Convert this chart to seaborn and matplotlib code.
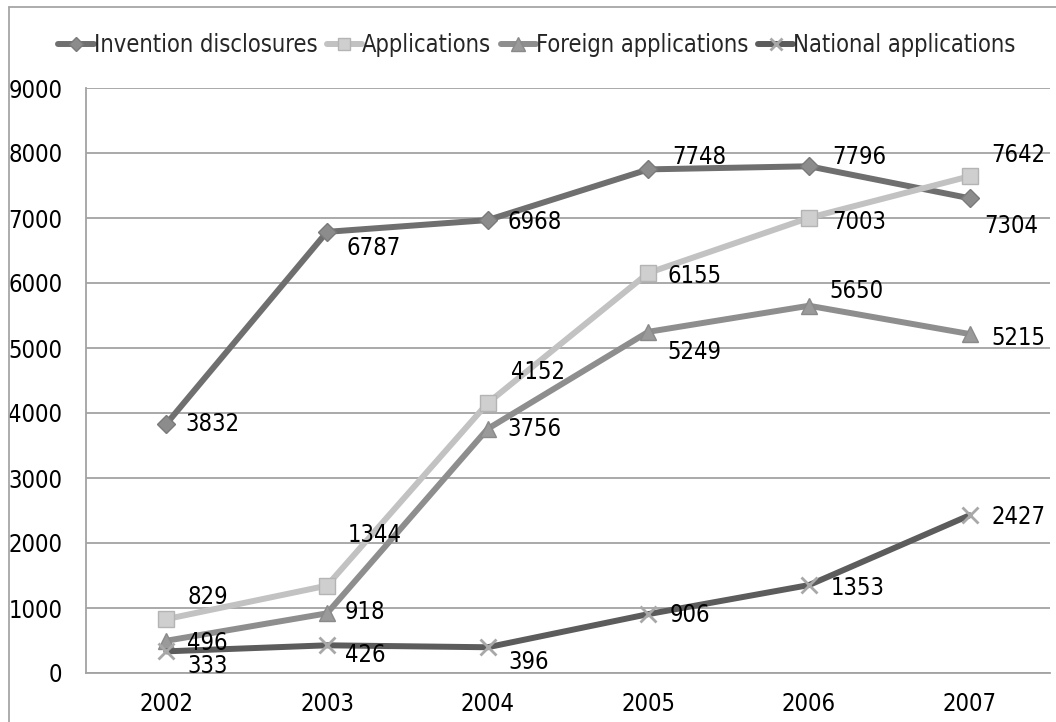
import matplotlib
matplotlib.use("Agg")
import matplotlib.pyplot as plt
from matplotlib import font_manager
from matplotlib.lines import Line2D
import numpy as np
import pandas as pd
import seaborn as sns

# Yearly counts
years = ["2002", "2003", "2004", "2005", "2006", "2007"]
invention_disclosures = [3832, 6787, 6968, 7748, 7796, 7304]
applications = [829, 1344, 4152, 6155, 7003, 7642]
foreign_applications = [496, 918, 3756, 5249, 5650, 5215]
national_applications = [333, 426, 396, 906, 1353, 2427]

series_names = ["Invention disclosures", "Applications",
                "Foreign applications", "National applications"]
series_values = [invention_disclosures, applications,
                 foreign_applications, national_applications]

# Styling per series: line colour, marker, marker face, marker edge, marker size
styles = {
    "Invention disclosures": dict(color="#6f6f6f", marker="D", mfc="#8c8c8c", mec="#7a7a7a", ms=9.5),
    "Applications": dict(color="#c2c2c2", marker="s", mfc="#cfcfcf", mec="#b4b4b4", ms=11.5),
    "Foreign applications": dict(color="#8e8e8e", marker="^", mfc="#9a9a9a", mec="#8a8a8a", ms=12),
    "National applications": dict(color="#5c5c5c", marker="x", mfc="#a8a8a8", mec="#a8a8a8", ms=11),
}

# Label offsets in pixels (dx, dy) relative to each point
label_offsets = {
    "Invention disclosures": [(19, 0), (19, -16), (20, -2), (24, 12), (23, 9), (15, -28)],
    "Applications": [(21, 22), (21, 51), (23, 31), (19, -3), (23, -4), (22, 21)],
    "Foreign applications": [(21, -2), (18, 1), (20, 0), (19, -20), (20, 15), (22, -4)],
    "National applications": [(21, -15), (18, -10), (21, -15), (21, -1), (22, -3), (22, -2)],
}

sns.set_style("white")

# Pick a narrow sans-serif if one is present
font_files = font_manager.findSystemFonts()
lower_files = [f.lower() for f in font_files]
has_narrow = any("liberationsansnarrow" in f for f in lower_files)
has_dejavu_cond = any("dejavusanscondensed" in f for f in lower_files)
if has_narrow:
    for f in font_files:
        if "liberationsansnarrow" in f.lower():
            font_manager.fontManager.addfont(f)
    plt.rcParams["font.family"] = ["Liberation Sans Narrow", "DejaVu Sans"]
    FS = 18.5
elif has_dejavu_cond:
    for f in font_files:
        if "dejavusanscondensed" in f.lower():
            font_manager.fontManager.addfont(f)
    plt.rcParams["font.family"] = ["DejaVu Sans"]
    plt.rcParams["font.stretch"] = "condensed"
    FS = 17
else:
    plt.rcParams["font.family"] = ["Liberation Sans", "DejaVu Sans"]
    FS = 16.5

W, H = 1056, 722
fig = plt.figure(figsize=(W / 100, H / 100), dpi=100)
ax = fig.add_axes([86 / W, 1 - 673 / H, (1050 - 86) / W, (673 - 88) / H])

x_pos = np.arange(len(years))
for name, vals in zip(series_names, series_values):
    st = styles[name]
    df = pd.DataFrame({"pos": x_pos, "value": vals})
    sns.lineplot(data=df, x="pos", y="value", ax=ax, color=st["color"],
                 linewidth=4.3, marker=st["marker"], markersize=st["ms"],
                 markerfacecolor=st["mfc"], markeredgecolor=st["mec"],
                 markeredgewidth=2.0 if st["marker"] == "x" else 1.0,
                 label=name, zorder=3)

# Value labels
for name, vals in zip(series_names, series_values):
    for i, v in enumerate(vals):
        dx, dy = label_offsets[name][i]
        ax.annotate(str(v), (x_pos[i], v), xytext=(dx, dy),
                    textcoords="offset pixels", ha="left", va="center",
                    fontsize=FS, color="black", zorder=5)

ax.set_xlim(-0.5, len(years) - 0.5)
ax.set_ylim(0, 9000)
ax.set_yticks(np.arange(0, 9001, 1000))
ax.set_xticks(x_pos)
ax.set_xticklabels(years)
ax.set_xlabel("")
ax.set_ylabel("")
ax.tick_params(axis="both", length=0, labelsize=FS, colors="black")
ax.tick_params(axis="y", pad=17)
ax.tick_params(axis="x", pad=14)
ax.yaxis.grid(True, color="#a3a3a3", linewidth=1.3)
ax.xaxis.grid(False)
for side in ["top", "right"]:
    ax.spines[side].set_visible(False)
for side in ["left", "bottom"]:
    ax.spines[side].set_color("#a3a3a3")
    ax.spines[side].set_linewidth(1.3)

# Legend across the top
handles, labels = ax.get_legend_handles_labels()
if ax.get_legend() is not None:
    ax.get_legend().remove()
leg = fig.legend(handles, labels, loc="center", bbox_to_anchor=(537 / W, 1 - 45 / H),
                 ncol=4, frameon=False, fontsize=FS, handlelength=1.5,
                 handletextpad=0.0, columnspacing=0.4, markerscale=0.8)

# Chart-area border
border_kw = dict(color="#a6a6a6", linewidth=1.3, transform=fig.transFigure)
fig.add_artist(Line2D([9 / W, 9 / W], [0, 1 - 7 / H], **border_kw))
fig.add_artist(Line2D([9 / W, 1], [1 - 7 / H, 1 - 7 / H], **border_kw))

fig.savefig("out.png", dpi=100, facecolor="white")
